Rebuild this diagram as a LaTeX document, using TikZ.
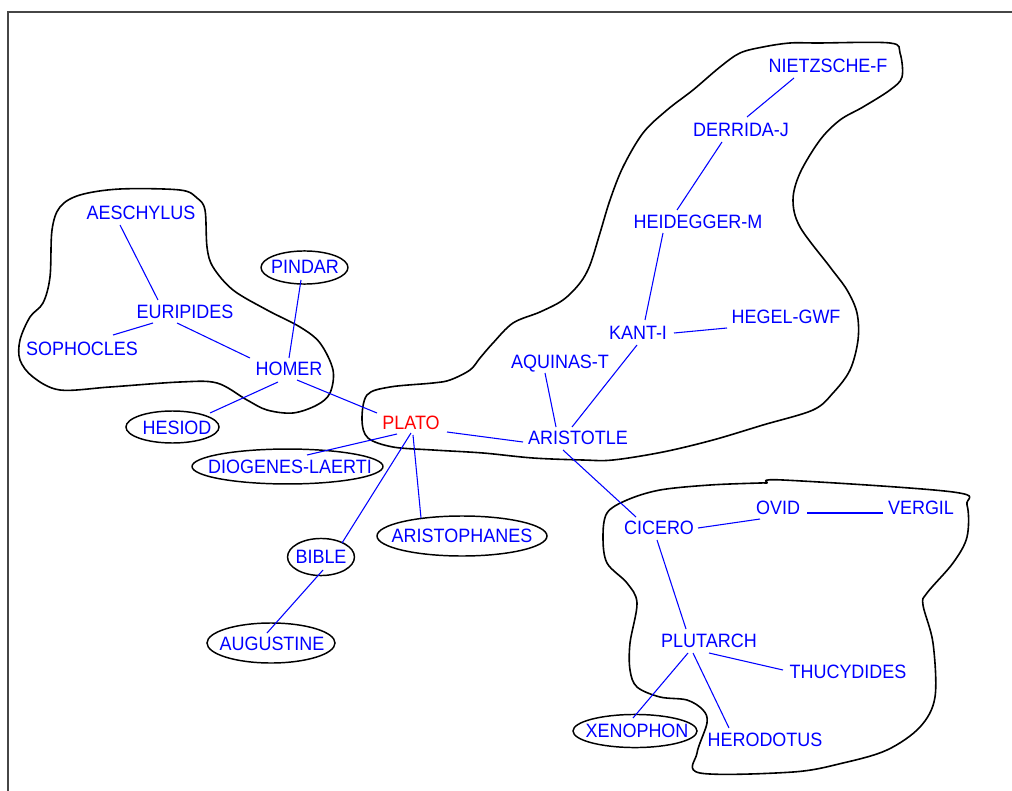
\documentclass[tikz,border=0pt]{standalone}
\usepackage{fontspec}
\setmainfont{Liberation Sans}[FakeStretch=0.93]
\usetikzlibrary{calc}

% connector between two named nodes, each end shifted from the node centre
\newcommand\lnk[4]{\draw[link] ($(#1.center)+(#2)$) -- ($(#3.center)+(#4)$);}

\begin{document}
\begin{tikzpicture}[x=0.75pt,y=-0.75pt,
  lbl/.style={font=\fontsize{14.5}{15}\selectfont, text=blue, inner sep=0pt,
              text height=10.4pt, text depth=0pt, anchor=center},
  root/.style={lbl, text=red},
  link/.style={draw=blue, line width=0.8pt},
  ring/.style={draw=black, line width=1.1pt},
  hull/.style={draw=black, line width=1.2pt, line join=round},
  frame/.style={draw={rgb,255:red,70;green,70;blue,70}, line width=1.6pt}]

\useasboundingbox (0,0) rectangle (1012,791);
\fill[white] (0,0) rectangle (1012,791);
\draw[frame] (8,791) -- (8,12) -- (1012,12);

% cluster outlines
\draw[hull] plot[smooth cycle, tension=0.55] coordinates {
  (120,189) (180,190) (197,198) (205,210) (207,247) (213,267) (233,290)
  (267,310) (300,327) (320,343) (333,370) (330,393) (317,405) (293,413)
  (267,410) (247,400) (217,383) (180,382) (110,387) (60,390) (33,377)
  (20,360) (20,340) (30,317) (43,303) (50,277) (52,230) (60,207) (80,195)};

\draw[hull] plot[smooth cycle, tension=0.55] coordinates {
  (362,420) (367,395) (390,387) (433,383) (450,380) (470,370) (480,358)
  (493,343) (513,323) (540,312) (563,300) (580,283) (590,265) (600,233)
  (610,200) (623,167) (643,133) (667,110) (693,90) (720,67) (740,53)
  (763,47) (790,43) (818,43) (890,43) (900,53) (902,77) (890,90)
  (863,107) (840,120) (820,140) (800,173) (793,200) (800,227) (830,267)
  (847,290) (857,313) (858,340) (850,370) (833,393) (813,410) (763,425)
  (713,440) (663,452) (613,460) (583,460) (533,458) (483,453) (433,450)
  (393,447) (368,438)};

\draw[hull] plot[smooth cycle, tension=0.55] coordinates {
  (767,483) (783,480) (953,492) (967,505) (967,537) (953,563) (927,593)
  (923,605) (933,643) (935,697) (920,727) (887,750) (843,763) (793,772)
  (700,773) (697,753) (707,723) (703,710) (687,700) (660,697) (637,687)
  (630,670) (630,643) (637,603) (627,583) (607,563) (603,537) (607,513)
  (627,500) (660,490) (710,485) (760,483)};

% labels
\node[lbl]  (aes)   at (141,213) {AESCHYLUS};
\node[lbl]  (pin)   at (305,267) {PINDAR};
\node[lbl]  (eur)   at (185,312) {EURIPIDES};
\node[lbl]  (soph)  at (82,349)  {SOPHOCLES};
\node[lbl]  (hom)   at (289,369) {HOMER};
\node[lbl]  (hes)   at (177,428) {HESIOD};
\node[root] (plato) at (411,423) {PLATO};
\node[lbl]  (diog)  at (290,467) {DIOGENES-LAERTI};
\node[lbl]  (ari)   at (578,438) {ARISTOTLE};
\node[lbl]  (aqu)   at (560,362) {AQUINAS-T};
\node[lbl]  (kant)  at (638,333) {KANT-I};
\node[lbl]  (heg)   at (786,317) {HEGEL-GWF};
\node[lbl]  (heid)  at (698,222) {HEIDEGGER-M};
\node[lbl]  (der)   at (741,130) {DERRIDA-J};
\node[lbl]  (nie)   at (828,66)  {NIETZSCHE-F};
\node[lbl]  (cic)   at (659,528) {CICERO};
\node[lbl]  (ovid)  at (778,508) {OVID};
\node[lbl]  (verg)  at (921,508) {VERGIL};
\node[lbl]  (plut)  at (709,641) {PLUTARCH};
\node[lbl]  (thuc)  at (848,672) {THUCYDIDES};
\node[lbl]  (xen)   at (637,731) {XENOPHON};
\node[lbl]  (her)   at (765,740) {HERODOTUS};
\node[lbl]  (aph)   at (462,536) {ARISTOPHANES};
\node[lbl]  (bib)   at (321,557) {BIBLE};
\node[lbl]  (aug)   at (272,644) {AUGUSTINE};

% rings round single names
\draw[ring] ($(pin.center)+(-0.5,0.5)$) ellipse [x radius=32.6pt, y radius=12.4pt];
\draw[ring] ($(hes.center)+(-4.5,-1)$)  ellipse [x radius=34.9pt, y radius=12pt];
\draw[ring] ($(diog.center)+(-2.5,-0.5)$) ellipse [x radius=71.6pt, y radius=13.1pt];
\draw[ring] (aph.center) ellipse [x radius=63.75pt, y radius=15pt];
\draw[ring] (bib.center) ellipse [x radius=25.1pt, y radius=13.9pt];
\draw[ring] ($(aug.center)+(-1,-1)$) ellipse [x radius=48pt, y radius=15pt];
\draw[ring] ($(xen.center)+(-2,0)$) ellipse [x radius=46.5pt, y radius=12.4pt];

% connectors
\lnk{aes}{-21,12}{eur}{-27,-12}
\lnk{eur}{-32,11}{soph}{31,-14}
\lnk{eur}{-8,11}{hom}{-39,-11}
\lnk{pin}{-4,13}{hom}{0,-11}
\lnk{hom}{-11,13}{hes}{33,-15}
\lnk{hom}{8,11}{plato}{-34,-10}
\lnk{plato}{-14,11}{diog}{17,-12}
\lnk{plato}{36,9}{ari}{-55,4}
\lnk{plato}{0,10}{bib}{21,-14}
\lnk{plato}{2,12}{aph}{-41,-18}
\lnk{bib}{2,13}{aug}{-5,-11}
\lnk{aqu}{-15,11}{ari}{-22,-11}
\lnk{ari}{-6,-11}{kant}{-1,12}
\lnk{ari}{-15,12}{cic}{-23,-11}
\lnk{kant}{36,0}{heg}{-59,11}
\lnk{kant}{7,-13}{heid}{-35,11}
\lnk{heid}{-21,-12}{der}{-19,12}
\lnk{der}{6,-13}{nie}{-34,12}
\lnk{cic}{39,0}{ovid}{-18,11}
\lnk{ovid}{29,5}{verg}{-38,5}
\lnk{cic}{-2,12}{plut}{-23,-12}
\lnk{plut}{0,12}{thuc}{-65,-2}
\lnk{plut}{-21,12}{xen}{-4,-13}
\lnk{plut}{-16,12}{her}{-36,-12}

\end{tikzpicture}
\end{document}
